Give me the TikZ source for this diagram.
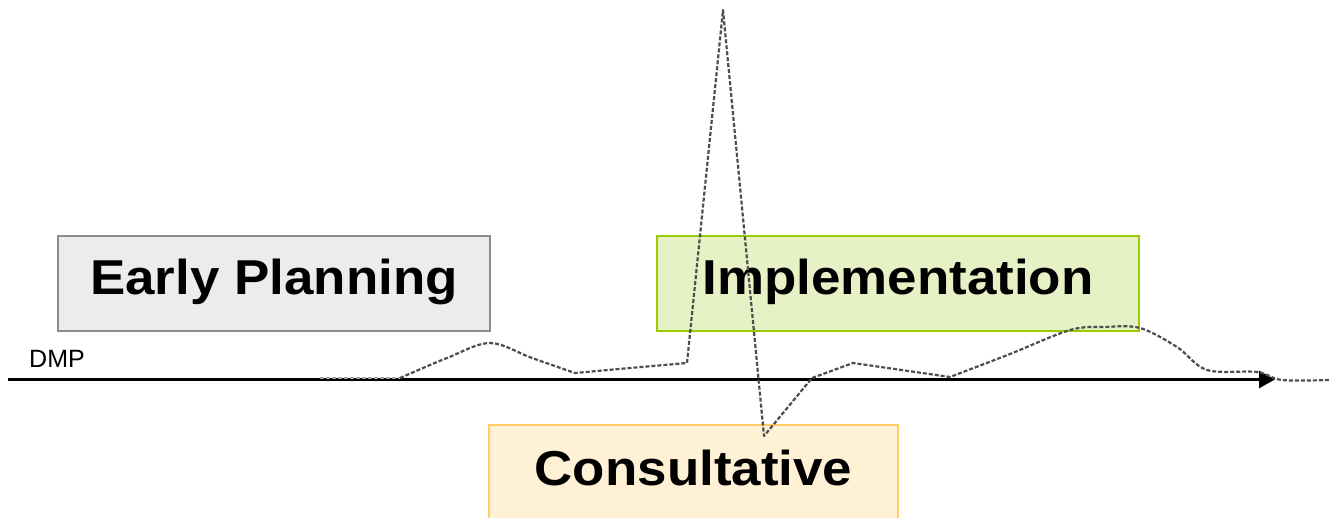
\documentclass[tikz,border=0pt]{standalone}
\usepackage{fontspec}
\setmainfont{Liberation Sans}
\newfontfamily\phasefont[FakeStretch=1.08]{Liberation Sans}
\usetikzlibrary{arrows.meta}

\definecolor{planborder}{HTML}{8C8C8C}
\definecolor{planfill}{HTML}{ECECEC}
\definecolor{implborder}{HTML}{99CC00}
\definecolor{implfill}{HTML}{E6F2C6}
\definecolor{consborder}{HTML}{FFCC66}
\definecolor{consfill}{HTML}{FFF1D6}
\definecolor{tracegray}{HTML}{4D4D4D}
\definecolor{tracefaint}{HTML}{A6A6A6}

\tikzset{
  phasebox/.style={draw, line width=2.2pt, inner sep=0pt,
    font=\phasefont\bfseries\fontsize{49}{55}\selectfont,
    text height=35pt, text depth=12pt},
  trace/.style={draw=tracegray, line width=2.2pt,
    dash pattern=on 4pt off 2pt, line join=round},
  axisline/.style={line width=2.4pt, -{Triangle[length=16pt,width=17pt]}}
}

\begin{document}
\begin{tikzpicture}[x=1pt,y=-1pt]
  \clip (0,0) rectangle (1333,518);
  \fill[white] (0,0) rectangle (1333,518);

  % phase boxes
  \node[phasebox, draw=planborder, fill=planfill,
        minimum width=432pt, minimum height=95pt] (plan) at (274,283.5) {Early Planning};
  \node[phasebox, draw=implborder, fill=implfill,
        minimum width=482pt, minimum height=95pt] (impl) at (898,283.5) {Implementation};
  \node[phasebox, draw=consborder, fill=consfill,
        minimum width=409pt, minimum height=97pt] (cons) at (693.5,473.5) {Consultative};

  % time axis
  \coordinate (axisstart) at (8,379.5);
  \coordinate (axisend) at (1275,379.5);
  \draw[axisline] (axisstart) -- (axisend);
  \node[anchor=base west, inner sep=0pt, font=\fontsize{25}{30}\selectfont] (dmp) at (29,367) {DMP};

  % activity trace: faint lead-in, then the main trace
  \path[trace, draw=tracefaint] (320,378) -- (400,378);
  \path[trace] (400,378)
    -- plot[smooth, tension=0.55] coordinates {(400,378) (447,358) (490,343) (532,358) (575,373)}
    -- plot[smooth, tension=0.4] coordinates {(575,373) (630,368) (687,363)}
    -- (723,10) -- (764,436) -- (812,378)
    -- (853,363) -- (950,377)
    -- plot[smooth, tension=0.55] coordinates {(950,377) (1010,354) (1070,330) (1105,327) (1140,328) (1177,347) (1207,370) (1257,372) (1282,380) (1330,380)};
\end{tikzpicture}
\end{document}
